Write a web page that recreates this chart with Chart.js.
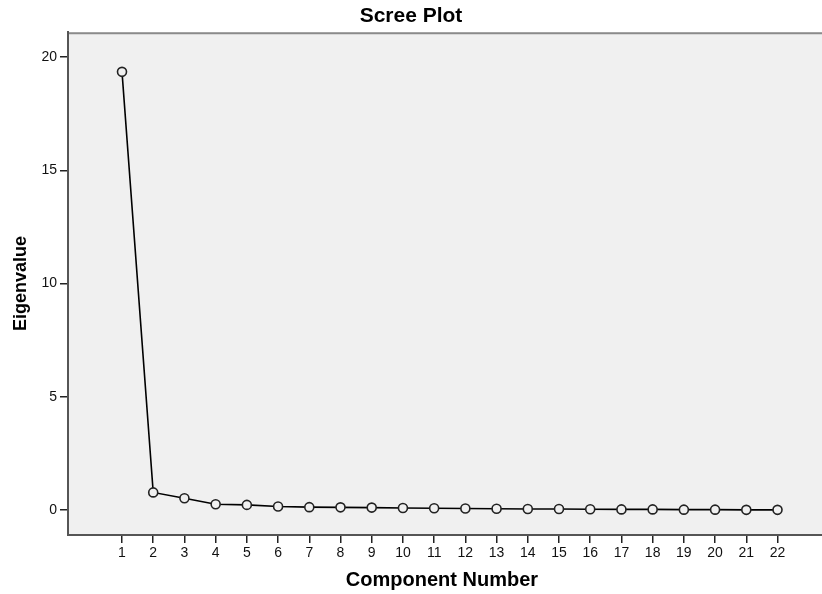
<!DOCTYPE html>
<html>
<head>
<meta charset="utf-8">
<script src="https://cdn.jsdelivr.net/npm/chart.js@4"></script>
<style>
  html, body { margin: 0; padding: 0; background: #fff; }
  #wrap { width: 822px; height: 594px; }
</style>
</head>
<body>
<div id="wrap"><canvas id="scree-plot" width="822" height="594"></canvas></div>
<script>
// component numbers and eigenvalues
var components = [1,2,3,4,5,6,7,8,9,10,11,12,13,14,15,16,17,18,19,20,21,22];
var eigenvalues = [19.35,0.78,0.52,0.26,0.23,0.16,0.13,0.12,0.11,0.09,0.08,0.07,0.06,0.05,0.05,0.04,0.03,0.03,0.02,0.02,0.01,0.01];
var yTicks = [0,5,10,15,20];

// grey plot panel, runs on to the right edge of the canvas like the SPSS output
var plotBg = {
    id: 'plotBg',
    beforeDraw: function(chart) {
        var a = chart.chartArea, c = chart.ctx;
        c.save();
        c.fillStyle = '#f0f0f0';
        c.fillRect(a.left, a.top, chart.width - a.left, a.bottom - a.top);
        c.strokeStyle = '#8a8a8a';
        c.lineWidth = 2;
        c.beginPath();
        c.moveTo(a.left, a.top + 1);
        c.lineTo(chart.width, a.top + 1);
        c.stroke();
        c.restore();
    },
    afterDraw: function(chart) {
        var a = chart.chartArea, c = chart.ctx;
        c.save();
        c.fillStyle = '#555';
        c.fillRect(a.left - 1, Math.round(a.bottom) - 1, chart.width - a.left + 1, 2);
        c.restore();
    }
};

new Chart(document.getElementById("scree-plot"), {
    type: 'line',
    data: {
        datasets: [
            {
                data: components.map(function(c, i) { return {x: c, y: eigenvalues[i]}; }),
                borderColor: '#000',
                borderWidth: 1.6,
                pointRadius: 4.5,
                pointHoverRadius: 4.5,
                pointBorderColor: '#222',
                pointBorderWidth: 1.6,
                pointBackgroundColor: '#f0f0f0',
                tension: 0,
                fill: false
            }
        ]
    },
    options: {
        responsive: false,
        animation: false,
        layout: { padding: 0 },
        plugins: {
            legend: { display: false },
            tooltip: { enabled: false },
            title: {
                display: true,
                text: 'Scree Plot',
                color: '#000',
                font: { family: 'Liberation Sans', size: 21, weight: 'bold' },
                padding: { top: 4, bottom: 3 }
            }
        },
        scales: {
            x: {
                type: 'linear',
                min: -0.73,
                max: 23.23,
                afterBuildTicks: function(axis) { axis.ticks = components.map(function(v) { return {value: v}; }); },
                afterFit: function(scale) { scale.height = 59; },
                grid: { drawOnChartArea: false, drawTicks: true, tickLength: 8, color: '#222', lineWidth: 1.5 },
                border: { display: false },
                ticks: { color: '#111', font: { family: 'Liberation Sans', size: 14 }, padding: 2, maxRotation: 0, autoSkip: false },
                title: {
                    display: true,
                    text: 'Component Number',
                    color: '#000',
                    font: { family: 'Liberation Sans', size: 20, weight: 'bold' },
                    padding: { top: 0, bottom: 2 }
                }
            },
            y: {
                min: -1.1,
                max: 21.1,
                afterBuildTicks: function(axis) { axis.ticks = yTicks.map(function(v) { return {value: v}; }); },
                afterFit: function(scale) { scale.width = 68; },
                grid: { drawOnChartArea: false, drawTicks: true, tickLength: 8, color: '#222', lineWidth: 1.5 },
                border: { color: '#555', width: 2 },
                ticks: { color: '#111', font: { family: 'Liberation Sans', size: 14 }, padding: 3 },
                title: {
                    display: true,
                    text: 'Eigenvalue',
                    color: '#000',
                    font: { family: 'Liberation Sans', size: 18, weight: 'bold' },
                    padding: { top: 10, bottom: 0 }
                }
            }
        }
    },
    plugins: [plotBg]
});
</script>
</body>
</html>
